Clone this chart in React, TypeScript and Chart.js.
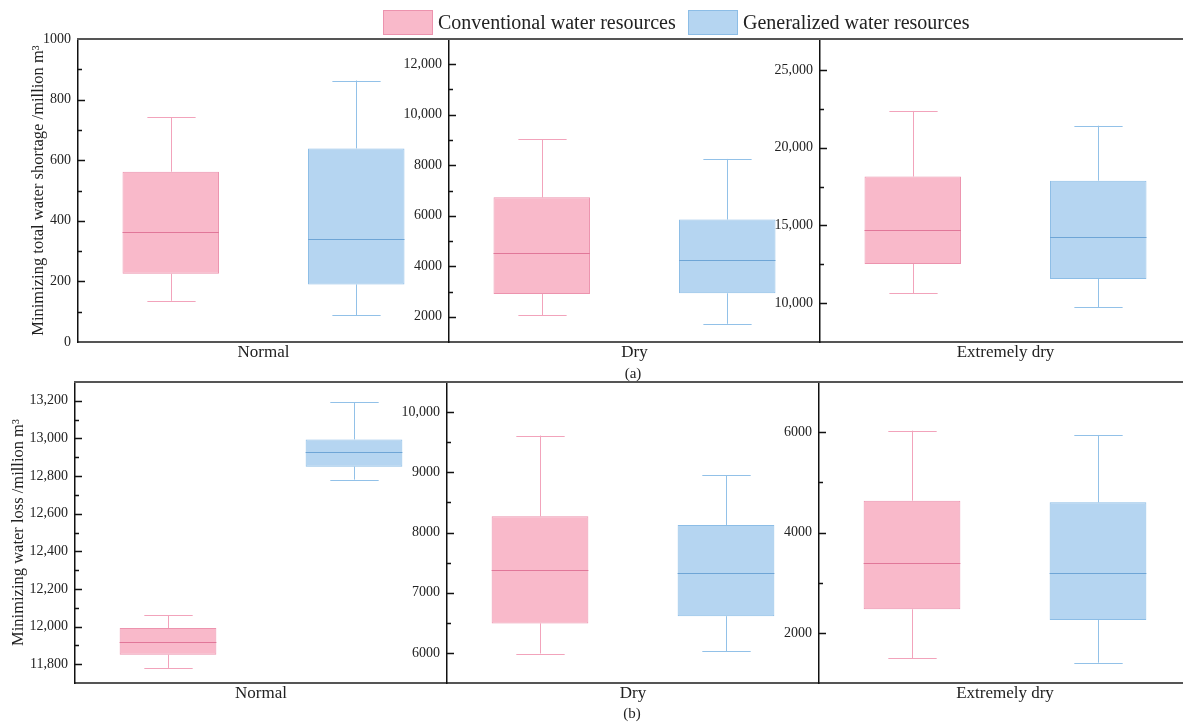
import React, { useEffect, useRef } from 'react';
import { Chart, registerables } from 'chart.js';

Chart.register(...registerables);

const FONT = "'Liberation Serif', 'Times New Roman', serif";
Chart.defaults.font.family = FONT;

const seriesNames = ['Conventional water resources', 'Generalized water resources'];
const scenarios = ['Normal', 'Dry', 'Extremely dry'];

// five-number summaries [min, Q1, median, Q3, max] for Normal, Dry, Extremely dry
const shortageConventional = [
  [136, 225, 362, 562, 741],
  [2050, 2900, 4530, 6730, 9030],
  [10630, 12520, 14690, 18150, 22370],
];
const shortageGeneralized = [
  [89, 190, 339, 639, 863],
  [1720, 2930, 4240, 5850, 8250],
  [9730, 11560, 14240, 17880, 21420],
];
const lossConventional = [
  [11780, 11850, 11916, 11992, 12060],
  [5990, 6490, 7370, 8270, 9610],
  [1490, 2470, 3390, 4634, 6030],
];
const lossGeneralized = [
  [12781, 12850, 12930, 12995, 13192],
  [6030, 6610, 7330, 8125, 8955],
  [1405, 2256, 3193, 4602, 5944],
];

const shortageAxisMin = [0, 1000, 7500];
const shortageAxisMax = [1000, 13000, 27000];
const shortageTickLabels = [
  [0, 200, 400, 600, 800, 1000],
  [2000, 4000, 6000, 8000, 10000, 12000],
  [10000, 15000, 20000, 25000],
];
const shortageMinorStep = [100, 1000, 2500];

const lossAxisMin = [11700, 5500, 1000];
const lossAxisMax = [13300, 10500, 7000];
const lossTickLabels = [
  [11800, 12000, 12200, 12400, 12600, 12800, 13000, 13200],
  [6000, 7000, 8000, 9000, 10000],
  [2000, 4000, 6000],
];
const lossMinorStep = [100, 500, 1000];

const yTitles = ['Minimizing total water shortage /million m³', 'Minimizing water loss /million m³'];
const rowCaptions = ['(a)', '(b)'];

const COLORS = {
  fill: ['#f9b9ca', '#b5d5f1'],
  edge: ['#ec93ae', '#8cbde6'],
  median: ['#e17799', '#6ea5d6'],
  whisker: ['#f2a3bb', '#92c1e8'],
};

const ROWS = [
  { top: 39, bottom: 342, axes: [78, 449, 820], yTitlePad: 29 },
  { top: 382, bottom: 683, axes: [75, 447, 819], yTitlePad: 9 },
];
const RIGHT_EDGE = 1191;
const PAD_TOP = 20;
const XH = 25;

const fmt = (v: number) => (Math.abs(v) >= 10000 ? v.toLocaleString('en-US') : String(v));

type PanelProps = {
  row: number;
  col: number;
  conv: number[];
  gen: number[];
  min: number;
  max: number;
  ticks: number[];
  minorStep: number;
};

function Panel({ row, col, conv, gen, min, max, ticks, minorStep }: PanelProps) {
  const ref = useRef<HTMLCanvasElement | null>(null);
  const r = ROWS[row];
  const axisX = r.axes[col];
  const rightX = col < 2 ? r.axes[col + 1] : RIGHT_EDGE;
  const YW = col === 0 ? axisX : 62;
  const cx = axisX - YW;
  const cw = rightX - cx;
  const cy = r.top - PAD_TOP;
  const ch = PAD_TOP + (r.bottom - r.top) + XH;

  useEffect(() => {
    const canvas = ref.current!;
    const stats = [conv, gen];
    const extras = {
      id: 'boxExtras',
      beforeDatasetsDraw(chart: any) {
        const ctx = chart.ctx;
        const y = chart.scales.y;
        const meta = chart.getDatasetMeta(0);
        ctx.save();
        ctx.lineWidth = 1;
        meta.data.forEach((bar: any, i: number) => {
          const s = stats[i];
          const x = Math.round(bar.x) + 0.5;
          const w = bar.width;
          ctx.strokeStyle = COLORS.whisker[i];
          ctx.beginPath();
          ctx.moveTo(x, y.getPixelForValue(s[4]));
          ctx.lineTo(x, y.getPixelForValue(s[3]));
          ctx.moveTo(x, y.getPixelForValue(s[1]));
          ctx.lineTo(x, y.getPixelForValue(s[0]));
          const yt = Math.round(y.getPixelForValue(s[4])) + 0.5;
          const yb = Math.round(y.getPixelForValue(s[0])) + 0.5;
          ctx.moveTo(x - w / 4, yt);
          ctx.lineTo(x + w / 4, yt);
          ctx.moveTo(x - w / 4, yb);
          ctx.lineTo(x + w / 4, yb);
          ctx.stroke();
        });
        ctx.restore();
      },
      afterDatasetsDraw(chart: any) {
        const ctx = chart.ctx;
        const y = chart.scales.y;
        const area = chart.chartArea;
        const meta = chart.getDatasetMeta(0);
        ctx.save();
        ctx.lineWidth = 1;
        meta.data.forEach((bar: any, i: number) => {
          const s = stats[i];
          const ym = Math.round(y.getPixelForValue(s[2])) + 0.5;
          ctx.strokeStyle = COLORS.median[i];
          ctx.beginPath();
          ctx.moveTo(bar.x - bar.width / 2, ym);
          ctx.lineTo(bar.x + bar.width / 2, ym);
          ctx.stroke();
        });
        // top frame line
        ctx.strokeStyle = '#555';
        ctx.lineWidth = 2;
        ctx.beginPath();
        ctx.moveTo(area.left - 1, area.top);
        ctx.lineTo(area.right, area.top);
        ctx.stroke();
        // inward major & minor ticks
        ctx.strokeStyle = '#111';
        ctx.lineWidth = 1.5;
        ctx.beginPath();
        const eps = 1e-6;
        for (let v = min + minorStep; v < max - eps; v += minorStep) {
          const isMajor = ticks.some((t) => Math.abs(t - v) < eps);
          const py = Math.round(y.getPixelForValue(v)) + 0.5;
          ctx.moveTo(area.left, py);
          ctx.lineTo(area.left + (isMajor ? 7 : 4), py);
        }
        ctx.stroke();
        ctx.restore();
      },
    };

    const chart = new Chart(canvas, {
      type: 'bar',
      data: {
        labels: seriesNames,
        datasets: [
          {
            label: scenarios[col],
            data: [
              [conv[1], conv[3]],
              [gen[1], gen[3]],
            ] as any,
            backgroundColor: COLORS.fill,
            borderColor: COLORS.edge,
            borderWidth: 1,
            borderSkipped: false,
            barPercentage: 0.52,
            categoryPercentage: 1,
          },
        ],
      },
      options: {
        responsive: false,
        animation: false,
        devicePixelRatio: 1,
        layout: { padding: { left: 0, right: 0, top: PAD_TOP, bottom: 0 }, autoPadding: false },
        plugins: { legend: { display: false }, tooltip: { enabled: false }, title: { display: false } },
        scales: {
          x: {
            type: 'category',
            offset: true,
            afterFit: (s: any) => {
              s.height = XH;
            },
            grid: { display: false, drawTicks: false },
            border: { display: true, color: '#555', width: 2 },
            ticks: { display: false },
            title: {
              display: true,
              text: scenarios[col],
              color: '#222',
              font: { size: 17, family: FONT },
              padding: { top: 0, bottom: 4 },
            },
          },
          y: {
            type: 'linear',
            min,
            max,
            afterFit: (s: any) => {
              s.width = YW;
            },
            afterBuildTicks: (s: any) => {
              s.ticks = ticks.map((v) => ({ value: v }));
            },
            grid: { display: false, drawTicks: false },
            border: { display: true, color: '#111', width: 1.5 },
            ticks: {
              padding: 7,
              color: '#222',
              font: { size: 14, family: FONT },
              callback: (v: any) => fmt(Number(v)),
            },
            title: {
              display: col === 0,
              text: yTitles[row],
              color: '#222',
              font: { size: 16.5, family: FONT },
              padding: { top: r.yTitlePad, bottom: 0 },
            },
          },
        },
      },
      plugins: [extras],
    } as any);
    return () => chart.destroy();
  }, []);

  return (
    <canvas
      ref={ref}
      width={cw}
      height={ch}
      style={{ position: 'absolute', left: cx, top: cy, width: cw, height: ch }}
    />
  );
}

export default function App() {
  const rows = [
    { conv: shortageConventional, gen: shortageGeneralized, mins: shortageAxisMin, maxs: shortageAxisMax, ticks: shortageTickLabels, minor: shortageMinorStep },
    { conv: lossConventional, gen: lossGeneralized, mins: lossAxisMin, maxs: lossAxisMax, ticks: lossTickLabels, minor: lossMinorStep },
  ];
  const textStyle: React.CSSProperties = { position: 'absolute', fontFamily: FONT, color: '#222', whiteSpace: 'nowrap' };
  return (
    <div style={{ position: 'absolute', left: 0, top: 0, width: 1183, height: 723, overflow: 'hidden', background: '#fff' }}>
      {rows.map((rw, ri) =>
        scenarios.map((_, ci) => (
          <Panel
            key={`${ri}-${ci}`}
            row={ri}
            col={ci}
            conv={rw.conv[ci]}
            gen={rw.gen[ci]}
            min={rw.mins[ci]}
            max={rw.maxs[ci]}
            ticks={rw.ticks[ci]}
            minorStep={rw.minor[ci]}
          />
        ))
      )}
      {/* legend */}
      <div style={{ position: 'absolute', left: 383, top: 10, width: 48, height: 23, background: COLORS.fill[0], border: `1px solid ${COLORS.edge[0]}` }} />
      <div style={{ ...textStyle, left: 438, top: 10, fontSize: 20, lineHeight: '25px' }}>{seriesNames[0]}</div>
      <div style={{ position: 'absolute', left: 688, top: 10, width: 48, height: 23, background: COLORS.fill[1], border: `1px solid ${COLORS.edge[1]}` }} />
      <div style={{ ...textStyle, left: 743, top: 10, fontSize: 20, lineHeight: '25px' }}>{seriesNames[1]}</div>
      {/* row captions */}
      <div style={{ ...textStyle, left: 633, top: 373, fontSize: 15, transform: 'translate(-50%, -50%)' }}>{rowCaptions[0]}</div>
      <div style={{ ...textStyle, left: 632, top: 713, fontSize: 15, transform: 'translate(-50%, -50%)' }}>{rowCaptions[1]}</div>
    </div>
  );
}
